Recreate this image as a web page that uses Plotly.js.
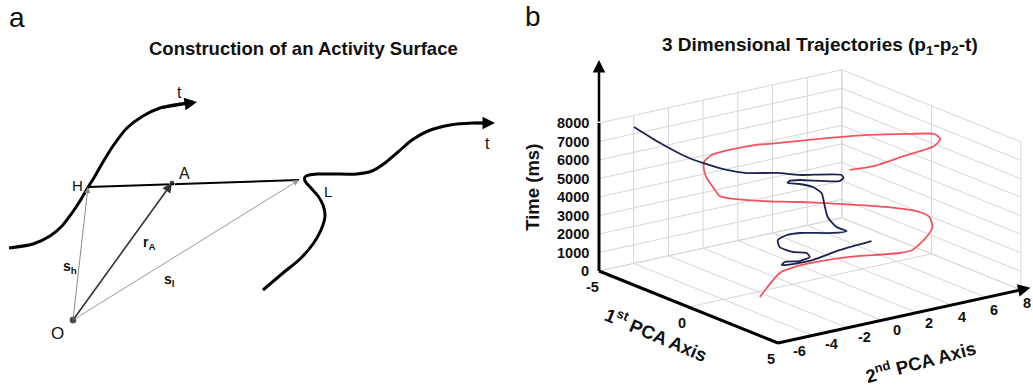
<!DOCTYPE html>
<html><head><meta charset="utf-8">
<script src="https://cdn.plot.ly/plotly-3.0.1.min.js"></script>
<style>html,body{margin:0;padding:0;background:#fff}#chart{width:1033px;height:390px}</style>
</head><body><div id="chart"></div>
<script>
// ---------- Panel a: diagram (coordinates in diagram units) ----------
const curveH_x = [9, 33, 50, 62, 72, 80, 87, 95, 103, 113, 127, 143, 160, 180, 193];
const curveH_y = [248, 244, 236, 226, 213, 201, 189, 176, 162, 146, 128, 116, 108, 104, 102];
const curveL_x = [263, 283, 300, 313, 321, 325, 323, 318, 311, 305, 305, 309, 318, 333, 357, 372, 385, 398, 412, 428, 450, 473, 490];
const curveL_y = [290, 273, 259, 244, 230, 216, 205, 196, 188, 181, 177, 175, 174, 174, 174, 171, 163, 152, 140, 131, 125, 123, 123];
const pointNames = ["O", "H", "A", "L"];
const pointX = [73, 88, 172, 299];
const pointY = [320, 187, 183, 180];

// ---------- Panel b: 3-D trajectories (p1, p2, t) ----------
const pcaTicks1 = [-5, 0, 5];
const pcaTicks2 = [-6, -4, -2, 0, 2, 4, 6, 8];
const timeTicks = [0, 1000, 2000, 3000, 4000, 5000, 6000, 7000, 8000];

const blue_p1 = [-2.33, -1.73, -0.95, -0.65, -0.52, -0.57, -0.20, -0.11, -0.28, -0.40, -0.77, -1.02, -0.96, -0.64, 0.34, 0.69, 0.38, -0.03, -0.34, -0.65, -0.94, -1.22, -1.38, -1.36, -1.08, 0.05, 0.01, -0.13, -0.62, -1.00, -1.25, -1.67, -2.19, -2.54, -3.66, -4.87];
const blue_p2 = [6.95, 4.49, 2.13, 0.67, -0.09, 0.13, 0.61, 1.10, 1.10, 0.42, 0.05, 0.20, 0.66, 1.07, 1.96, 2.40, 2.14, 2.05, 2.19, 2.34, 2.13, 1.66, 1.14, 1.23, 1.52, 2.66, 2.92, 2.95, 1.04, 0.12, -1.35, -2.07, -2.91, -3.48, -3.86, -4.12];
const blue_t = [0, 250, 500, 700, 850, 950, 1050, 1200, 1350, 1500, 1700, 1950, 2150, 2300, 2500, 2650, 2800, 3200, 3700, 4200, 4450, 4600, 4700, 4800, 4900, 5050, 5150, 5250, 5450, 5600, 5800, 5950, 6300, 6600, 7000, 7450];

const red_p1 = [0.51, 0.08, -0.68, -0.73, -0.53, 0.00, 1.13, 1.36, 0.89, 0.44, 0.06, -0.25, -0.94, -1.65, -2.26, -2.73, -3.07, -3.38, -3.80, -4.26, -4.55, -4.74, -4.81, -4.58, -4.08, -3.29, -2.36, -1.35, -0.15, 0.68, 1.41, 2.09, 2.73, 3.37, 3.41];
const red_p2 = [-2.41, -1.58, -0.04, 0.70, 1.92, 3.28, 5.00, 5.50, 6.80, 7.61, 7.82, 7.57, 6.37, 4.58, 2.74, 0.91, -0.18, -0.72, -0.63, -0.56, -0.43, -0.18, 0.30, 1.09, 2.13, 3.21, 4.56, 5.81, 6.88, 7.47, 7.05, 6.01, 3.63, 1.24, -0.23];
const red_t = [0, 150, 350, 450, 600, 800, 1100, 1250, 1500, 1700, 2050, 2250, 2500, 2750, 3000, 3250, 3450, 3600, 3850, 4200, 4600, 4850, 5050, 5250, 5500, 5750, 6050, 6350, 6650, 6850, 6950, 7050, 7250, 7450, 7550];

const FONT = "Arial, 'Liberation Sans', sans-serif";
const p1min = pcaTicks1[0], p1max = pcaTicks1[pcaTicks1.length-1];
const p2min = pcaTicks2[0], p2max = pcaTicks2[pcaTicks2.length-1];
const tmax = timeTicks[timeTicks.length-1];

// oblique view of the 3-D box (WebGL is not available, so the view is drawn on a 2-D axis pair)
const VIEW = {p1u:17.9, p1v:-7.2, p2u:17.35, p2v:3.8, tv:0.0185};
function proj(p1, p2, t) {
  const a = p1 - p1min, b = p2 - p2min;
  return [VIEW.p1u*a + VIEW.p2u*b, VIEW.p1v*a + VIEW.p2v*b + VIEW.tv*t];
}
function projSeries(P1, P2, T) {
  const u = [], v = [];
  for (let i = 0; i < P1.length; i++) { const q = proj(P1[i], P2[i], T[i]); u.push(q[0]); v.push(q[1]); }
  return {u, v};
}
function segs(list) {
  const u = [], v = [];
  list.forEach(s => { const A = proj(...s[0]), B = proj(...s[1]); u.push(A[0], B[0], null); v.push(A[1], B[1], null); });
  return {u, v};
}
// grid lines on the three back planes
const gridSegs = [];
pcaTicks2.forEach(p2 => { gridSegs.push([[p1min, p2, 0], [p1min, p2, tmax]]); gridSegs.push([[p1min, p2, 0], [p1max, p2, 0]]); });
timeTicks.forEach(t => { gridSegs.push([[p1min, p2min, t], [p1min, p2max, t]]); gridSegs.push([[p1min, p2max, t], [p1max, p2max, t]]); });
pcaTicks1.forEach(p1 => { gridSegs.push([[p1, p2max, 0], [p1, p2max, tmax]]); gridSegs.push([[p1, p2min, 0], [p1, p2max, 0]]); });
const grid = segs(gridSegs);
const axesLines = segs([[[p1min, p2min, 0], [p1max, p2min, 0]], [[p1max, p2min, 0], [p1max, p2max, 0]], [[p1min, p2min, 0], [p1min, p2min, tmax]]]);
const redP = projSeries(red_p1, red_p2, red_t);
const blueP = projSeries(blue_p1, blue_p2, blue_t);

const traces = [
  {type:'scatter', x:curveH_x, y:curveH_y, mode:'lines', line:{color:'#000', width:3, shape:'spline', smoothing:0.8}, xaxis:'x', yaxis:'y', hoverinfo:'skip'},
  {type:'scatter', x:curveL_x, y:curveL_y, mode:'lines', line:{color:'#000', width:3, shape:'spline', smoothing:0.8}, xaxis:'x', yaxis:'y', hoverinfo:'skip'},
  {type:'scatter', x:[pointX[1], pointX[3]], y:[pointY[1], pointY[3]], mode:'lines', line:{color:'#000', width:2}, xaxis:'x', yaxis:'y', hoverinfo:'skip'},
  {type:'scatter', x:[pointX[0], pointX[2]], y:[pointY[0], pointY[2]], mode:'markers', marker:{color:'#000', size:[8,6]}, xaxis:'x', yaxis:'y', hoverinfo:'skip'},
  {type:'scatter', x:grid.u, y:grid.v, mode:'lines', line:{color:'#d6d6d6', width:1}, xaxis:'x2', yaxis:'y2', hoverinfo:'skip', cliponaxis:false},
  {type:'scatter', x:redP.u, y:redP.v, mode:'lines', line:{color:'#f2545f', width:1.8, shape:'spline', smoothing:0.6}, xaxis:'x2', yaxis:'y2', hoverinfo:'skip', cliponaxis:false},
  {type:'scatter', x:blueP.u, y:blueP.v, mode:'lines', line:{color:'#1e2452', width:1.8, shape:'spline', smoothing:0.6}, xaxis:'x2', yaxis:'y2', hoverinfo:'skip', cliponaxis:false},
  {type:'scatter', x:axesLines.u, y:axesLines.v, mode:'lines', line:{color:'#000', width:3}, xaxis:'x2', yaxis:'y2', hoverinfo:'skip', cliponaxis:false}
];

const ann = [];
const vecColors = ['#8a8a8a', '#333333', '#9a9a9a'];
const vecWidths = [1, 1.6, 1];
for (let i = 1; i <= 3; i++) {
  ann.push({xref:'x', yref:'y', axref:'x', ayref:'y', x:pointX[i], y:pointY[i], ax:pointX[0], ay:pointY[0], text:'', showarrow:true, arrowhead:2, arrowsize:1.2, arrowwidth:vecWidths[i-1], arrowcolor:vecColors[i-1]});
}
ann.push({xref:'x', yref:'y', axref:'x', ayref:'y', x:curveH_x[curveH_x.length-1]+4, y:curveH_y[curveH_y.length-1], ax:curveH_x[curveH_x.length-3], ay:curveH_y[curveH_y.length-3], text:'', showarrow:true, arrowhead:2, arrowsize:1, arrowwidth:2.5, arrowcolor:'#000'});
ann.push({xref:'x', yref:'y', axref:'x', ayref:'y', x:curveL_x[curveL_x.length-1]+5, y:curveL_y[curveL_y.length-1], ax:curveL_x[curveL_x.length-2], ay:curveL_y[curveL_y.length-2], text:'', showarrow:true, arrowhead:2, arrowsize:1, arrowwidth:2.5, arrowcolor:'#000'});
const lab = (x, y, text, size, bold) => ann.push({xref:'x', yref:'y', x:x, y:y, text:text, showarrow:false, xanchor:'center', font:{family:FONT, size:size, color:'#111', weight: bold ? 'bold' : 'normal'}});
lab(57, 333, 'O', 17);
lab(77, 185, 'H', 15);
lab(184, 173, 'A', 16);
lab(328, 191, 'L', 15);
lab(179, 92, 't', 16);
lab(487, 143, 't', 16);
lab(70, 267, 's<sub>h</sub>', 14, true);
lab(149, 243, 'r<sub>A</sub>', 14, true);
lab(169, 280, 's<sub>l</sub>', 14, true);
lab(303, 48, 'Construction of an Activity Surface', 18.5, true);
lab(17, 17, 'a', 28);
ann.push({xref:'paper', yref:'paper', x:533/1033, y:1-17/390, xanchor:'center', yanchor:'middle', text:'b', showarrow:false, font:{family:FONT, size:28, color:'#111'}});
ann.push({xref:'paper', yref:'paper', x:820/1033, y:1-46/390, xanchor:'center', yanchor:'middle', text:'3 Dimensional Trajectories (p<sub>1</sub>-p<sub>2</sub>-t)', showarrow:false, font:{family:FONT, size:19, color:'#111', weight:'bold'}});

// panel b: arrows, tick labels, axis titles
const tickFont = {family:FONT, size:14.5, color:'#111', weight:'bold'};
const titleFont = {family:FONT, size:18.5, color:'#111', weight:'bold'};
const zBase = proj(p1min, p2min, tmax), zTip = proj(p1min, p2min, 11400);
ann.push({xref:'x2', yref:'y2', axref:'x2', ayref:'y2', x:zTip[0], y:zTip[1], ax:zBase[0], ay:zBase[1], text:'', showarrow:true, arrowhead:2, arrowsize:1, arrowwidth:2.5, arrowcolor:'#000'});
const yBase = proj(p1max, p2max, 0), yTip = proj(p1max, p2max + 0.55, 0);
ann.push({xref:'x2', yref:'y2', axref:'x2', ayref:'y2', x:yTip[0], y:yTip[1], ax:yBase[0], ay:yBase[1], text:'', showarrow:true, arrowhead:2, arrowsize:1, arrowwidth:2.5, arrowcolor:'#000'});
timeTicks.forEach(t => { const q = proj(p1min, p2min, t); ann.push({xref:'x2', yref:'y2', x:q[0], y:q[1], text:String(t), showarrow:false, xanchor:'right', xshift:-8, font:tickFont}); });
pcaTicks1.forEach(p => { const q = proj(p, p2min, 0); ann.push({xref:'x2', yref:'y2', x:q[0], y:q[1], text:String(p), showarrow:false, xanchor:'center', xshift:-7, yshift:-16, font:tickFont}); });
pcaTicks2.forEach((p, i) => { const q = proj(p1max, p, 0); ann.push({xref:'x2', yref:'y2', x:q[0], y:q[1], text:String(p), showarrow:false, xanchor:'center', xshift:21 - 15*i/(pcaTicks2.length-1), yshift:-8 - 5*i/(pcaTicks2.length-1), font:tickFont}); });
const zt = proj(p1min, p2min, 4500);
ann.push({xref:'x2', yref:'y2', x:zt[0], y:zt[1], text:'Time (ms)', showarrow:false, xanchor:'center', textangle:-90, xshift:-66, font:titleFont});
const xt = proj(0, p2min, 0);
ann.push({xref:'x2', yref:'y2', x:xt[0], y:xt[1], text:'1<sup>st</sup> PCA Axis', showarrow:false, xanchor:'center', textangle:23, xshift:-32, yshift:-27, font:titleFont});
const yt = proj(p1max, 1, 0);
ann.push({xref:'x2', yref:'y2', x:yt[0], y:yt[1], text:'2<sup>nd</sup> PCA Axis', showarrow:false, xanchor:'center', textangle:-15, xshift:21, yshift:-45, font:titleFont});

const layout = {
  width:1033, height:390, margin:{l:0, r:0, t:0, b:0},
  paper_bgcolor:'#fff', plot_bgcolor:'rgba(0,0,0,0)', showlegend:false,
  xaxis:{domain:[0, 520/1033], range:[0, 520], visible:false, fixedrange:true},
  yaxis:{domain:[0, 1], range:[390, 0], visible:false, fixedrange:true},
  xaxis2:{domain:[520/1033, 1], range:[-79, 434], visible:false, fixedrange:true},
  yaxis2:{domain:[0, 1], range:[-119, 271], visible:false, fixedrange:true},
  annotations:ann
};

Plotly.newPlot('chart', traces, layout, {displayModeBar:false, staticPlot:true});
</script></body></html>
